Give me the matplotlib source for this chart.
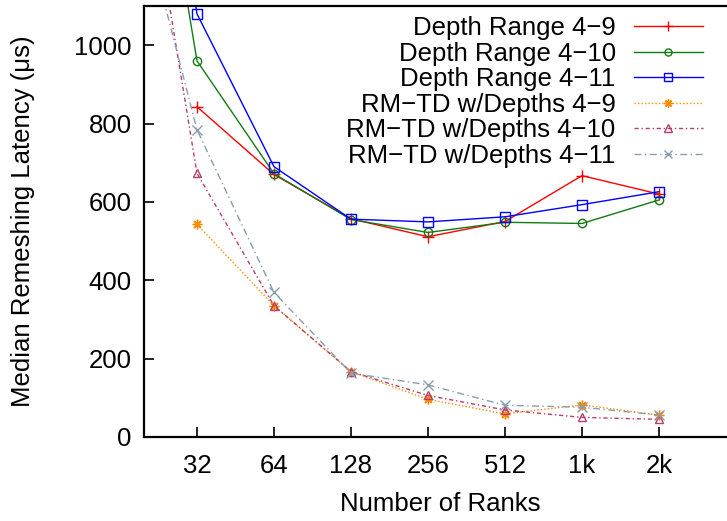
import matplotlib

matplotlib.use("Agg")
import matplotlib.pyplot as plt
import numpy as np

plt.rcParams["font.family"] = ["Liberation Sans", "DejaVu Sans"]
plt.rcParams["font.size"] = 18.5

# rank counts; 16 ranks sits just left of the visible axis range
ranks = ["16", "32", "64", "128", "256", "512", "1k", "2k"]
nan = np.nan

depth_4_9 = [nan, 843, 670, 557, 511, 550, 667, 620]
depth_4_10 = [2150, 960, 672, 555, 522, 548, 545, 605]
depth_4_11 = [2300, 1080, 690, 556, 549, 562, 593, 626]
rmtd_4_9 = [nan, 543, 335, 167, 96, 59, 82, 56]
rmtd_4_10 = [1870, 673, 335, 167, 106, 69, 50, 45]
rmtd_4_11 = [1550, 784, 369, 163, 133, 81, 76, 56]

W, H = 727, 521
fig = plt.figure(figsize=(W / 100, H / 100), dpi=100)
# right spine falls outside the canvas, as in the gnuplot output
ax = fig.add_axes([144 / W, (H - 437) / H, (736 - 144) / W, (437 - 6) / H])

x = np.arange(len(ranks))
series = [
    ("Depth Range 4\u22129", depth_4_9, "#ff0000", "+", "-", 8, "#ff0000"),
    ("Depth Range 4\u221210", depth_4_10, "#137a13", "o", "-", 6, "none"),
    ("Depth Range 4\u221211", depth_4_11, "#0000ff", "s", "-", 7, "none"),
    ("RM\u2212TD w/Depths 4\u22129", rmtd_4_9, "#ff8c00", (8, 2, 0), (0, (1, 1.5)), 7, "#ff8c00"),
    ("RM\u2212TD w/Depths 4\u221210", rmtd_4_10, "#b83c6e", "^", (0, (3, 2, 1, 2)), 6, "none"),
    ("RM\u2212TD w/Depths 4\u221211", rmtd_4_11, "#8a9db0", "x", (0, (5, 2.5, 1, 2.5)), 7, "#8a9db0"),
]
for label, vals, color, marker, ls, ms, mfc in series:
    ax.plot(x, vals, color=color, lw=1.0, ls=ls, marker=marker, ms=ms,
            mfc=mfc, mec=color, mew=1.0, label=label)

ax.set_xlim(0.312, 8.0)
ax.set_ylim(0, 1100)
ax.set_xticks(x[1:])
ax.set_xticklabels(ranks[1:])
ax.set_yticks(np.arange(0, 1001, 200))
ax.tick_params(direction="in", length=7, width=1.2, pad=9)
ax.tick_params(axis="x", pad=12)
for side in ["left", "bottom", "top"]:
    ax.spines[side].set_linewidth(1.6)
ax.spines["right"].set_visible(False)

ax.set_xlabel("Number of Ranks", labelpad=10)
ax.set_ylabel("Median Remeshing Latency (\u03bcs)", labelpad=28)

leg = ax.legend(loc="upper right", bbox_to_anchor=(703 / W, 1 - 16 / H),
                bbox_transform=fig.transFigure, frameon=False, markerfirst=False,
                handlelength=2.7, handletextpad=0.7, labelspacing=0.06,
                borderpad=0, borderaxespad=0, numpoints=1, markerscale=0.85)

fig.savefig("out.png", dpi=100)
